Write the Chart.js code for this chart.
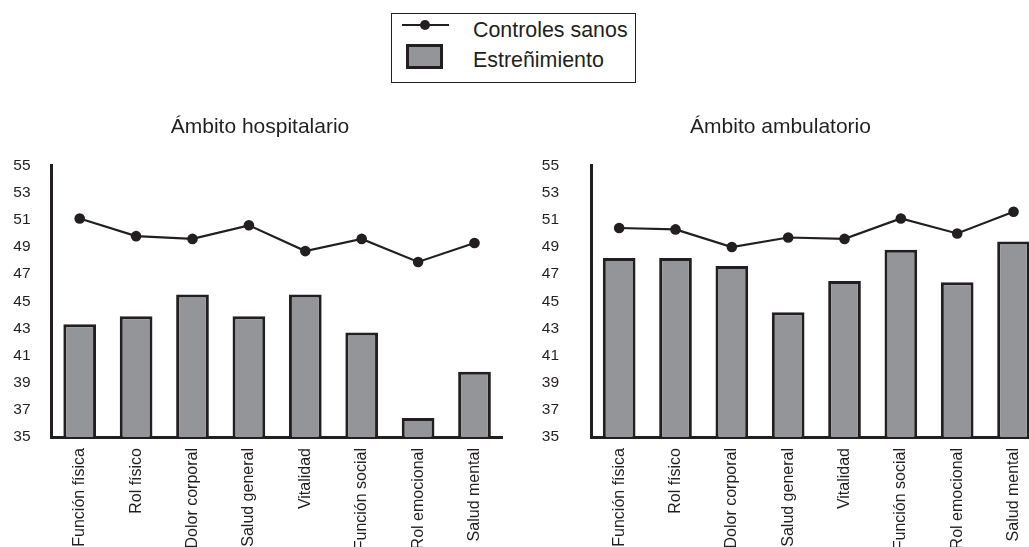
<!DOCTYPE html>
<html>
<head>
<meta charset="utf-8">
<script src="https://cdn.jsdelivr.net/npm/chart.js@4/dist/chart.umd.min.js"></script>
<style>
  html, body { margin: 0; padding: 0; background: #ffffff; overflow: hidden; width: 1029px; height: 547px; }
  body { position: relative; font-family: 'Liberation Sans', Arial, Helvetica, sans-serif; color: #231f20; }
  canvas { position: absolute; }
  #legend { position: absolute; left: 391px; top: 13px; width: 245px; height: 70px; border: 1.3px solid #231f20; box-sizing: border-box; background: #fff; }
  .lg-line { position: absolute; left: 10px; top: 10px; width: 47px; height: 2px; background: #231f20; }
  .lg-dot { position: absolute; left: 27.5px; top: 6px; width: 10px; height: 10px; border-radius: 50%; background: #231f20; }
  .lg-rect { position: absolute; left: 14px; top: 29.5px; width: 37px; height: 25px; background: #939598; border: 3px solid #231f20; box-sizing: border-box; }
  .lg-text { position: absolute; left: 81px; font-size: 21.4px; line-height: 26px; white-space: nowrap; }
</style>
</head>
<body>
<div id="legend">
  <div class="lg-line"></div><div class="lg-dot"></div>
  <div class="lg-text" style="top:3px">Controles sanos</div>
  <div class="lg-rect"></div>
  <div class="lg-text" style="top:33px">Estreñimiento</div>
</div>
<canvas id="c1" width="508" height="500" style="left:0px; top:100px;"></canvas>
<canvas id="c2" width="533" height="500" style="left:514px; top:100px;"></canvas>
<script>
const categories = ['Función física', 'Rol físico', 'Dolor corporal', 'Salud general', 'Vitalidad', 'Función social', 'Rol emocional', 'Salud mental'];
const hospControles = [51.1, 49.8, 49.6, 50.6, 48.7, 49.6, 47.9, 49.3];
const hospEstrenimiento = [43.3, 43.9, 45.5, 43.9, 45.5, 42.7, 36.4, 39.8];
const ambControles = [50.4, 50.3, 49.0, 49.7, 49.6, 51.1, 50.0, 51.6];
const ambEstrenimiento = [48.2, 48.2, 47.6, 44.2, 46.5, 48.8, 46.4, 49.4];
const yMin = 35, yMax = 55, yStep = 2;
const seriesNames = ['Controles sanos', 'Estreñimiento'];
const titles = ['Ámbito hospitalario', 'Ámbito ambulatorio'];

const DARK = '#231f20', GRAY = '#939598';
const FONT = "'Liberation Sans', Arial, Helvetica, sans-serif";

function makeChart(id, title, lineData, barData, yAxisWidth, tickPad, padL, padR) {
  return new Chart(document.getElementById(id), {
    type: 'bar',
    data: {
      labels: categories,
      datasets: [
        {
          type: 'line', label: seriesNames[0], data: lineData, order: 0,
          borderColor: DARK, borderWidth: 2.2, tension: 0,
          pointRadius: 5.3, pointBackgroundColor: DARK, pointBorderWidth: 0, pointHoverRadius: 5.3
        },
        {
          type: 'bar', label: seriesNames[1], data: barData, order: 1,
          backgroundColor: GRAY, borderColor: DARK, borderWidth: 3, borderSkipped: 'start',
          barPercentage: 0.58, categoryPercentage: 1.0
        }
      ]
    },
    options: {
      responsive: false, animation: false, devicePixelRatio: 1,
      layout: { padding: { left: padL, right: padR, top: 0, bottom: 0 } },
      plugins: {
        legend: { display: false },
        tooltip: { enabled: false },
        title: {
          display: true, text: title, color: DARK,
          font: { family: FONT, size: 21, weight: 'normal', lineHeight: 1.2 },
          padding: { top: 14.5, bottom: 25.9 }
        }
      },
      scales: {
        x: {
          grid: { display: false, drawTicks: false },
          border: { display: true, color: DARK, width: 3 },
          ticks: {
            color: DARK, autoSkip: false, minRotation: 90, maxRotation: 90, padding: 11,
            font: { family: FONT, size: 16 }
          },
          afterFit: (s) => { s.height = 163; }
        },
        y: {
          min: yMin, max: yMax,
          grid: { display: false, drawTicks: false },
          border: { display: true, color: DARK, width: 3 },
          ticks: { stepSize: yStep, color: DARK, padding: tickPad, font: { family: FONT, size: 15.5 } },
          afterFit: (s) => { s.width = yAxisWidth; }
        }
      }
    }
  });
}

makeChart('c1', titles[0], hospControles, hospEstrenimiento, 39.5, 21, 12, 0);
makeChart('c2', titles[1], ambControles, ambEstrenimiento, 77, 32, 0, 0);
</script>
</body>
</html>
